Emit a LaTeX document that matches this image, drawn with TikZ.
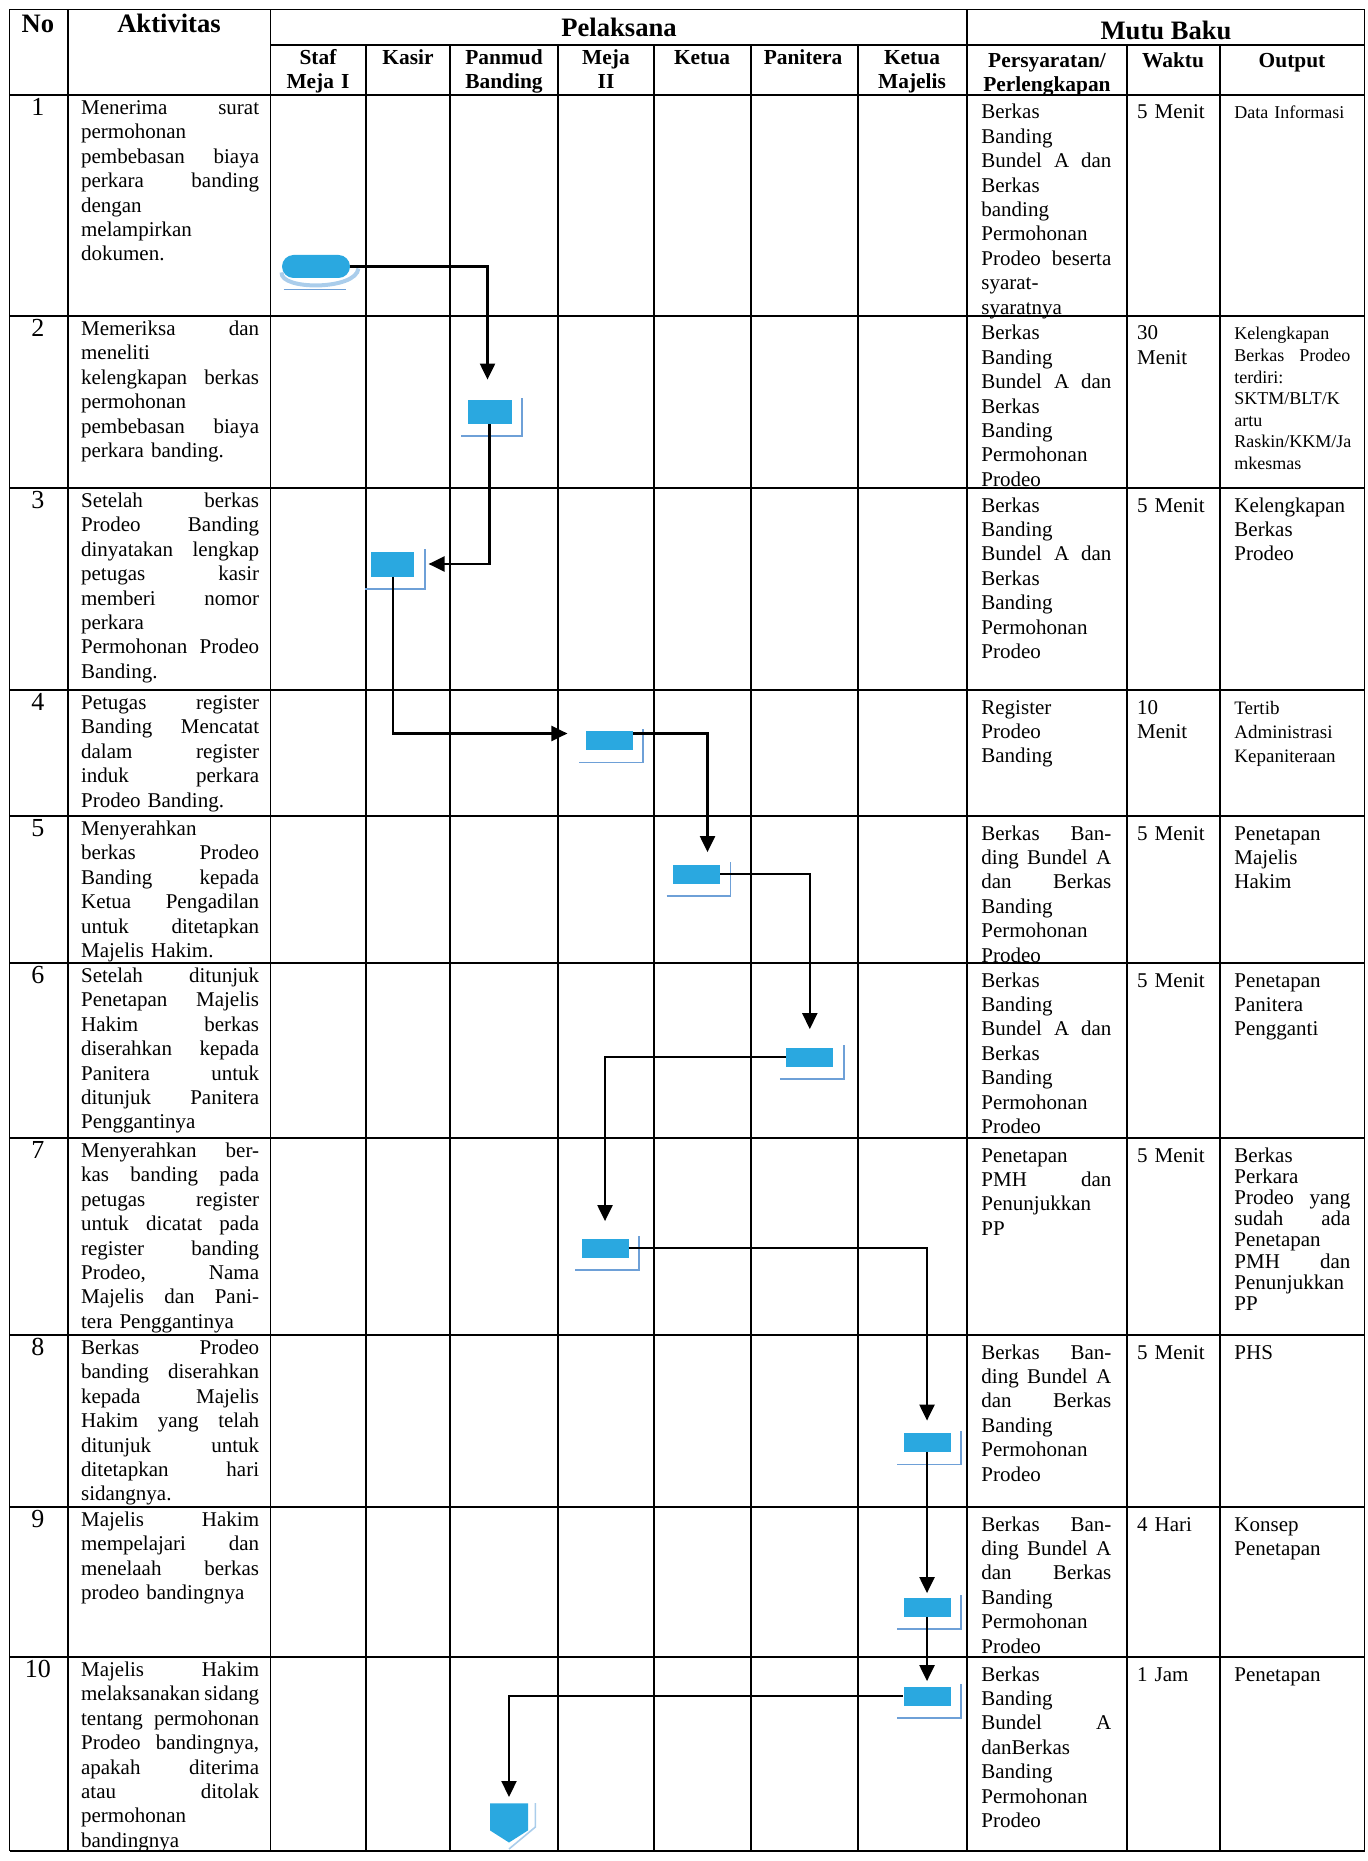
\documentclass[tikz,border=0pt]{standalone}
\usepackage{fontspec}
\setmainfont{Liberation Serif}
\usepackage{tikz}
\usetikzlibrary{arrows.meta,shapes.symbols}
\hyphenpenalty=10000
\exhyphenpenalty=10000

\definecolor{boxblue}{HTML}{2AA8E0}
\definecolor{shadeblue}{RGB}{110,160,215}
\definecolor{paleblue}{RGB}{170,205,235}

\newcommand{\bodyfont}{\fontsize{10.5}{12.2}\selectfont}
\newcommand{\smallfont}{\fontsize{9}{10.8}\selectfont}
% justified line (align=left fixes the word space, so reset it here)
\newcommand{\J}[1]{{\spaceskip=0pt\xspaceskip=0pt\makebox[\hsize][s]{#1}}\\}
\newcommand{\bbA}{Berkas\\Banding\\\J{Bundel A dan}Berkas\\Banding\\Permohonan\\Prodeo}
\newcommand{\bbB}{\J{Berkas Ban-}\J{ding Bundel A}\J{dan Berkas}Banding\\Permohonan\\Prodeo}

\tikzset{grid line/.style={line width=0.9pt},
text node/.style={anchor=base west,align=left,inner sep=0pt,font=\bodyfont},
akt node/.style={text node,text width=89pt},
syarat node/.style={text node,text width=65pt},
waktu node/.style={text node,text width=42pt},
output node/.style={text node,text width=58pt},
no node/.style={anchor=base,inner sep=0pt,font=\fontsize{13}{15}\selectfont},
head node/.style={anchor=base,inner sep=0pt,font=\fontsize{13.3}{15}\selectfont\bfseries},
sub node/.style={anchor=base,inner sep=0pt,text width=80pt,align=center,font=\fontsize{10.7}{12}\selectfont\bfseries},
proc node/.style={fill=boxblue,minimum width=23.5pt,minimum height=9.5pt,inner sep=0pt},
flow/.style={line width=1.1pt,-{Triangle[width=7.5pt,length=8pt]}},
drop line/.style={shadeblue,line width=0.9pt},
}

\begin{document}
\begin{tikzpicture}[x=0.5pt,y=-0.5pt]
\useasboundingbox (0,0) rectangle (1368,1861);

% table grid
\foreach \y in {9.5,95,316,488,690,816,963,1138,1335,1507,1657,1851}
  \draw[grid line] (9.5,\y) -- (1364.5,\y);
\draw[grid line] (270.5,45) -- (1364.5,45);
\foreach \x in {9.5,67.6,270.5,967,1364.5}
  \draw[grid line] (\x,9.5) -- (\x,1851);
\foreach \x in {366,450,558,654,751,858,1127,1220}
  \draw[grid line] (\x,45) -- (\x,1851);

% header
\node[head node] (hno) at (38,33) {No};
\node[head node] (hakt) at (169,33) {Aktivitas};
\node[head node] (hpel) at (619,37) {Pelaksana};
\node[head node] (hmutu) at (1166,40) {Mutu Baku};
\node[sub node] (hstaf) at (318,65) {Staf\\Meja I};
\node[sub node] (hkasir) at (408,65) {Kasir};
\node[sub node] (hpanmud) at (504,65) {Panmud\\Banding};
\node[sub node] (hmeja) at (606,65) {Meja\\II};
\node[sub node] (hketua) at (702,65) {Ketua};
\node[sub node] (hpanitera) at (803,65) {Panitera};
\node[sub node] (hmajelis) at (912,65) {Ketua\\Majelis};
\node[sub node] (hsyarat) at (1047,68) {Persyaratan/\\Perlengkapan};
\node[sub node] (hwaktu) at (1173,68) {Waktu};
\node[sub node] (houtput) at (1292,68) {Output};

% nomor
\foreach \i/\y in {1/115.5,2/336.5,3/508.5,4/710.5,5/836.5,6/983.5,7/1158.5,8/1355.5,9/1527.5,10/1677.5}
  \node[no node] (n\i) at (38,\y) {\i};

% aktivitas
\node[akt node] (a1) at (80.7,114.5) {\J{Menerima surat}permohonan\\\J{pembebasan biaya}\J{perkara banding}dengan\\melampirkan\\dokumen.};
\node[akt node] (a2) at (80.7,335.5) {\J{Memeriksa dan}meneliti\\\J{kelengkapan berkas}permohonan\\\J{pembebasan biaya}perkara banding.};
\node[akt node] (a3) at (80.7,507.5) {\J{Setelah berkas}\J{Prodeo Banding}\J{dinyatakan lengkap}\J{petugas kasir}\J{memberi nomor}perkara\\\J{Permohonan Prodeo}Banding.};
\node[akt node] (a4) at (80.7,709.5) {\J{Petugas register}\J{Banding Mencatat}\J{dalam register}\J{induk perkara}Prodeo Banding.};
\node[akt node] (a5) at (80.7,835.5) {Menyerahkan\\\J{berkas Prodeo}\J{Banding kepada}\J{Ketua Pengadilan}\J{untuk ditetapkan}Majelis Hakim.};
\node[akt node] (a6) at (80.7,982.5) {\J{Setelah ditunjuk}\J{Penetapan Majelis}\J{Hakim berkas}\J{diserahkan kepada}\J{Panitera untuk}\J{ditunjuk Panitera}Penggantinya};
\node[akt node] (a7) at (80.7,1157.5) {\J{Menyerahkan ber-}\J{kas banding pada}\J{petugas register}\J{untuk dicatat pada}\J{register banding}\J{Prodeo, Nama}\J{Majelis dan Pani-}tera Penggantinya};
\node[akt node] (a8) at (80.7,1354.5) {\J{Berkas Prodeo}\J{banding diserahkan}\J{kepada Majelis}\J{Hakim yang telah}\J{ditunjuk untuk}\J{ditetapkan hari}sidangnya.};
\node[akt node] (a9) at (80.7,1526.5) {\J{Majelis Hakim}\J{mempelajari dan}\J{menelaah berkas}prodeo bandingnya};
\node[akt node] (a10) at (80.7,1676.5) {\J{Majelis Hakim}\J{melaksanakan sidang}\J{tentang permohonan}\J{Prodeo bandingnya,}\J{apakah diterima}\J{atau ditolak}permohonan\\bandingnya};

% persyaratan
\node[syarat node] (s1) at (981,119) {Berkas\\Banding\\\J{Bundel A dan}Berkas\\banding\\Permohonan\\\J{Prodeo beserta}syarat-\\syaratnya};
\node[syarat node] (s2) at (981,340) {\bbA};
\node[syarat node] (s3) at (981,512) {\bbA};
\node[syarat node] (s4) at (981,714) {Register\\Prodeo\\Banding};
\node[syarat node] (s5) at (981,840) {\bbB};
\node[syarat node] (s6) at (981,987) {\bbA};
\node[syarat node] (s7) at (981,1162) {Penetapan\\\J{PMH dan}Penunjukkan\\PP};
\node[syarat node] (s8) at (981,1359) {\bbB};
\node[syarat node] (s9) at (981,1531) {\bbB};
\node[syarat node] (s10) at (981,1681) {Berkas\\Banding\\\J{Bundel A}danBerkas\\Banding\\Permohonan\\Prodeo};

% waktu
\node[waktu node] (w1) at (1136.7,119) {5 Menit};
\node[waktu node] (w2) at (1136.7,340) {30\\Menit};
\node[waktu node] (w3) at (1136.7,512) {5 Menit};
\node[waktu node] (w4) at (1136.7,714) {10\\Menit};
\node[waktu node] (w5) at (1136.7,840) {5 Menit};
\node[waktu node] (w6) at (1136.7,987) {5 Menit};
\node[waktu node] (w7) at (1136.7,1162) {5 Menit};
\node[waktu node] (w8) at (1136.7,1359) {5 Menit};
\node[waktu node] (w9) at (1136.7,1531) {4 Hari};
\node[waktu node] (w10) at (1136.7,1681) {1 Jam};

% output
\node[output node,font=\smallfont] (o1) at (1234,119) {Data Informasi};
\node[output node,font=\smallfont] (o2) at (1234,340) {Kelengkapan\\\J{Berkas Prodeo}terdiri:\\SKTM/BLT/K\\artu\\Raskin/KKM/Ja\\mkesmas};
\node[output node] (o3) at (1234,512) {Kelengkapan\\Berkas\\Prodeo};
\node[output node,font=\fontsize{9.5}{12.2}\selectfont] (o4) at (1234,714) {Tertib\\Administrasi\\Kepaniteraan};
\node[output node] (o5) at (1234,840) {Penetapan\\Majelis\\Hakim};
\node[output node] (o6) at (1234,987) {Penetapan\\Panitera\\Pengganti};
\node[output node,font=\fontsize{10.5}{10.6}\selectfont] (o7) at (1234,1162) {Berkas\\Perkara\\\J{Prodeo yang}\J{sudah ada}Penetapan\\\J{PMH dan}Penunjukkan\\PP};
\node[output node] (o8) at (1234,1359) {PHS};
\node[output node] (o9) at (1234,1531) {Konsep\\Penetapan};
\node[output node] (o10) at (1234,1681) {Penetapan};

% flow symbols
\node[proc node,minimum width=34pt,minimum height=11.5pt,rounded corners=5.75pt] (start) at (316,266.5) {};
\node[proc node,minimum width=22pt,minimum height=12pt] (p2) at (489.5,412) {};
\node[proc node,minimum width=21.5pt,minimum height=12.5pt] (p3) at (392.7,564) {};
\node[proc node] (p4) at (609.3,740.5) {};
\node[proc node] (p5) at (696.5,874) {};
\node[proc node] (p6) at (809.8,1057) {};
\node[proc node] (p7) at (605,1248) {};
\node[proc node] (p8) at (927,1442.5) {};
\node[proc node] (p9) at (927,1607) {};
\node[proc node] (p10) at (927,1696) {};
\node[signal,signal to=south,signal pointer angle=115,fill=boxblue,minimum width=19pt,minimum height=13.5pt,inner sep=0pt,anchor=north] (stop) at (509,1803) {};

% shadows
\foreach \n in {p2,p3,p4,p5,p6,p7,p8,p9,p10}
  \draw[drop line] ([xshift=-3pt,yshift=-6pt]\n.south west) -| ([xshift=5pt,yshift=1pt]\n.north east);
\draw[paleblue,line width=2pt] ([yshift=3pt]start.south west) .. controls ([xshift=-1pt,yshift=-6pt]start.south west) and ([xshift=3pt,yshift=-6pt]start.south east) .. ([xshift=4pt,yshift=5pt]start.south east);
\draw[drop line,line width=0.6pt] ([xshift=1pt,yshift=-5.5pt]start.south west) -- ([xshift=-2pt,yshift=-5.5pt]start.south east);
\draw[paleblue,line width=0.8pt] ([xshift=3.5pt]stop.north east) -- ([xshift=3.5pt,yshift=-12pt]stop.north east) -- ([yshift=-3pt]stop.south);

% arrows
\draw[flow,shorten >=10pt] (start.east) -| ([xshift=-1pt]p2.north);
\draw[flow,shorten >=7pt] (p2.south) |- (p3.east);
\draw[flow,shorten >=9pt] (p3.south) |- ([yshift=3.5pt]p4.west);
\draw[flow,shorten >=6pt] ([yshift=3.5pt]p4.east) -| ([xshift=5.5pt]p5.north);
\draw[flow,shorten >=9pt] (p5.east) -| (p6.north);
\draw[flow,shorten >=8.5pt] (p6.west) -| (p7.north);
\draw[flow,shorten >=6pt] (p7.east) -| (p8.north);
\draw[flow,shorten >=2pt] (p8.south) -- (p9.north);
\draw[flow,shorten >=2.5pt] (p9.south) -- (p10.north);
\draw[flow,shorten >=3pt] (p10.west) -| (stop.north);
\end{tikzpicture}
\end{document}
